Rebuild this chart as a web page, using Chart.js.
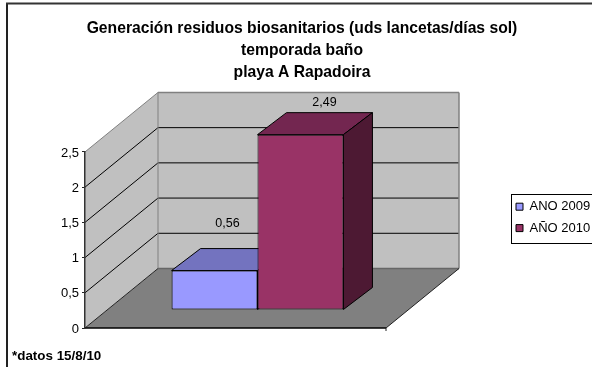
<!DOCTYPE html>
<html>
<head>
<meta charset="utf-8">
<script src="https://cdn.jsdelivr.net/npm/chart.js@4"></script>
<style>
  html, body { margin: 0; padding: 0; background: #fff; }
  #wrap { width: 592px; height: 367px; }
</style>
</head>
<body>
<div id="wrap"><canvas id="chart" width="592" height="367"></canvas></div>
<script>
// Chart data
const categories = [''];
const series2009 = [0.56];
const series2010 = [2.49];
const seriesNames = ['ANO 2009', 'AÑO 2010'];
const yTicks = ['0', '0,5', '1', '1,5', '2', '2,5'];
const valueLabels = ['0,56', '2,49'];
const titleLines = [
    'Generación residuos biosanitarios (uds lancetas/días sol)',
    'temporada baño',
    'playa A Rapadoira'
];
const footnote = '*datos 15/8/10';

// 3D look: depth of the walls and of the bars, in pixels
const wallDepth = { x: 73, y: -59.5 };
const barShift = { x: 22, y: -18 };
const barDepth = { x: 29, y: -22 };
const labelShift = [{ x: 13, y: -47 }, { x: 24, y: -32 }];
const topColors = ['#7373BF', '#732650'];
const sideColors = ['#4D4D80', '#4D1933'];

function poly(ctx, pts, fill, stroke, width) {
    ctx.beginPath();
    pts.forEach((p, i) => i ? ctx.lineTo(p[0], p[1]) : ctx.moveTo(p[0], p[1]));
    ctx.closePath();
    if (fill) { ctx.fillStyle = fill; ctx.fill(); }
    if (stroke) { ctx.strokeStyle = stroke; ctx.lineWidth = width || 1; ctx.stroke(); }
}

function line(ctx, x1, y1, x2, y2, color, width) {
    ctx.beginPath();
    ctx.moveTo(x1, y1);
    ctx.lineTo(x2, y2);
    ctx.strokeStyle = color;
    ctx.lineWidth = width || 1;
    ctx.stroke();
}

const chart3d = {
    id: 'chart3d',
    afterUpdate(chart) {
        // the legend sits outside the plot, right of the walls
        const legend = chart.legend;
        const h = legend.bottom - legend.top;
        legend.left = 507.6;
        legend.right = 592;
        legend.top = 191.8;
        legend.bottom = 191.8 + h;
        legend.adjustHitBoxes();
    },
    beforeDraw(chart) {
        const ctx = chart.ctx;
        const a = chart.chartArea;
        const y = chart.scales.y;
        const dx = wallDepth.x, dy = wallDepth.y;
        ctx.save();
        ctx.fillStyle = '#fff';
        ctx.fillRect(0, 0, chart.width, chart.height);
        // outer frame
        line(ctx, 7, 3, 7, chart.height, '#222', 2);
        line(ctx, 6, 3.5, chart.width, 3.5, '#333', 2);
        // floor, left wall, back wall
        poly(ctx, [[a.left, a.bottom], [a.right, a.bottom], [a.right + dx, a.bottom + dy], [a.left + dx, a.bottom + dy]], '#808080');
        poly(ctx, [[a.left, a.bottom], [a.left, a.top], [a.left + dx, a.top + dy], [a.left + dx, a.bottom + dy]], '#C0C0C0');
        poly(ctx, [[a.left + dx, a.bottom + dy], [a.left + dx, a.top + dy], [a.right + dx, a.top + dy], [a.right + dx, a.bottom + dy]], '#C0C0C0');
        // grid lines follow the walls
        yTicks.forEach((t, i) => {
            const py = y.getPixelForValue(i * 0.5);
            if (i === 0 || i === yTicks.length - 1) return;
            line(ctx, a.left, py, a.left + dx, py + dy, '#000');
            line(ctx, a.left + dx, py + dy, a.right + dx, py + dy, '#000');
        });
        const backTop = a.top + dy, backBot = a.bottom + dy;
        line(ctx, a.left, a.top, a.left + dx, backTop, '#808080');
        line(ctx, a.left + dx, backTop, a.right + dx, backTop, '#808080', 1.5);
        line(ctx, a.left + dx, backTop, a.left + dx, backBot, '#808080');
        line(ctx, a.right + dx, backTop, a.right + dx, backBot, '#808080', 1.5);
        line(ctx, a.left + dx, backBot, a.right + dx, backBot, '#666', 1.5);
        line(ctx, a.left, a.bottom, a.left + dx, backBot, '#222');
        line(ctx, a.right, a.bottom, a.right + dx, backBot, '#222');
        line(ctx, a.left, a.bottom, a.right, a.bottom, '#000', 1.5);
        line(ctx, a.right, a.bottom, a.right, a.bottom + 3, '#222');
        ctx.restore();
    },
    beforeDatasetsDraw(chart) {
        const ctx = chart.ctx;
        ctx.save();
        ctx.translate(barShift.x, barShift.y);
        // tops and sides first, the native bars cover what is hidden
        chart.data.datasets.forEach((ds, i) => {
            const b = chart.getDatasetMeta(i).data[0];
            const l = b.x - b.width / 2, r = b.x + b.width / 2;
            const ddx = barDepth.x, ddy = barDepth.y;
            poly(ctx, [[l, b.y], [r, b.y], [r + ddx, b.y + ddy], [l + ddx, b.y + ddy]], topColors[i], '#000');
            poly(ctx, [[r, b.y], [r + ddx, b.y + ddy], [r + ddx, b.base + ddy], [r, b.base]], sideColors[i], '#000');
        });
    },
    afterDatasetsDraw(chart) {
        const ctx = chart.ctx;
        ctx.restore();
        ctx.save();
        ctx.font = '12.5px "Liberation Sans"';
        ctx.fillStyle = '#000';
        ctx.textAlign = 'center';
        ctx.textBaseline = 'middle';
        chart.data.datasets.forEach((ds, i) => {
            const b = chart.getDatasetMeta(i).data[0];
            ctx.fillText(valueLabels[i], b.x + barShift.x + labelShift[i].x, b.y + barShift.y + labelShift[i].y);
        });
        ctx.restore();
    },
    afterDraw(chart) {
        const ctx = chart.ctx;
        ctx.save();
        ctx.strokeStyle = '#000';
        ctx.lineWidth = 1;
        ctx.strokeRect(511.5, 194.5, 90, 49);
        ctx.restore();
    }
};

new Chart(document.getElementById('chart'), {
    type: 'bar',
    data: {
        labels: categories,
        datasets: [
            { label: seriesNames[0], data: series2009, backgroundColor: '#9999FF', borderColor: '#000', borderWidth: 1, borderSkipped: false },
            { label: seriesNames[1], data: series2010, backgroundColor: '#993366', borderColor: '#000', borderWidth: 1, borderSkipped: false }
        ]
    },
    options: {
        responsive: false,
        animation: false,
        layout: { padding: { left: 12, right: 0, top: 17.5, bottom: 0 } },
        datasets: { bar: { categoryPercentage: 0.571, barPercentage: 1, clip: false } },
        plugins: {
            title: {
                display: true,
                text: titleLines,
                color: '#000',
                font: { family: '"Liberation Sans"', size: 15.7, weight: 'bold', lineHeight: 1.4 },
                padding: { top: 0, bottom: 68.5 }
            },
            subtitle: {
                display: true,
                position: 'bottom',
                align: 'start',
                text: footnote,
                color: '#000',
                font: { family: '"Liberation Sans"', size: 13.4, weight: 'bold', lineHeight: 1.2 },
                padding: { top: 19.92, bottom: 3 }
            },
            legend: {
                position: 'chartArea',
                align: 'start',
                labels: {
                    color: '#000',
                    font: { family: '"Liberation Sans"', size: 13 },
                    boxWidth: 7,
                    boxHeight: 7,
                    padding: 8.4
                }
            },
            tooltip: { enabled: false }
        },
        scales: {
            x: { display: false },
            y: {
                min: 0,
                max: 2.5,
                afterFit: s => { s.width = 73; },
                grid: { drawOnChartArea: false, tickLength: 3, color: '#222' },
                border: { color: '#333', width: 1.5 },
                ticks: {
                    stepSize: 0.5,
                    padding: 3,
                    labelOffset: 1,
                    color: '#000',
                    font: { family: '"Liberation Sans"', size: 13 },
                    callback: (v, i) => yTicks[i]
                }
            },
            // empty axis keeps room for the legend without moving the centred title
            gap: {
                position: 'right',
                afterFit: s => { s.width = 206; },
                grid: { display: false },
                border: { display: false },
                ticks: { display: false }
            }
        }
    },
    plugins: [chart3d]
});
</script>
</body>
</html>
